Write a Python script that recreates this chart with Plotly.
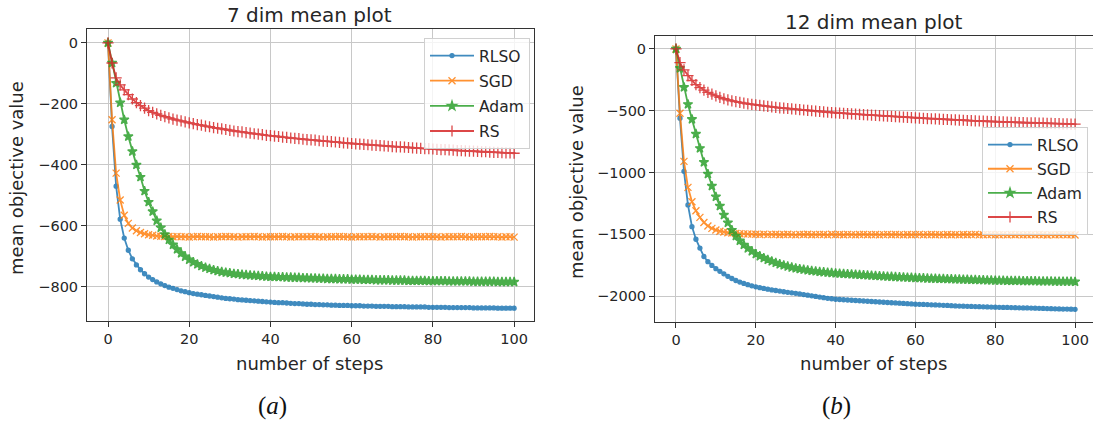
import plotly.graph_objects as go

# ---------------- data ----------------
series_names = ["RLSO", "SGD", "Adam", "RS"]
colors = ["#1f77b4", "#ff7f0e", "#2ca02c", "#d62728"]

L_RLSO = [0, -274, -470, -578, -640, -680, -708, -728, -744, -757,
          -768, -776, -784, -790, -796, -801, -805, -809, -813, -816,
          -819, -822, -824, -826, -828, -830, -832, -834, -836, -838,
          -839, -840, -842, -843, -844, -845, -846, -847, -848, -849,
          -850, -851, -852, -852, -853, -854, -855, -855, -856, -857,
          -857, -858, -858, -859, -859, -860, -860, -861, -861, -861,
          -862, -862, -862, -863, -863, -863, -864, -864, -864, -864,
          -865, -865, -865, -865, -866, -866, -866, -866, -866, -867,
          -867, -867, -867, -867, -868, -868, -868, -868, -868, -868,
          -869, -869, -869, -869, -869, -869, -870, -870, -870, -870,
          -870]
L_SGD = [0, -252, -427, -515, -565, -592, -607, -616, -622, -626,
         -629, -631, -633, -634, -635, -635, -636, -635, -636, -636,
         -637, -636, -635, -636, -636, -636, -637, -636, -636, -635,
         -636, -636, -637, -636, -636, -636, -635, -636, -637, -636,
         -636, -636, -636, -635, -636, -637, -636, -636, -636, -636,
         -635, -636, -636, -637, -636, -636, -636, -635, -636, -636,
         -637, -636, -636, -636, -636, -635, -636, -637, -636, -636,
         -636, -636, -635, -636, -636, -637, -636, -636, -636, -635,
         -636, -636, -637, -636, -636, -636, -636, -635, -636, -637,
         -636, -636, -636, -636, -635, -636, -636, -637, -636, -636,
         -637]
L_ADAM = [0, -66, -132, -196, -252, -307, -356, -400, -440, -486,
          -522, -553, -583, -606, -628, -646, -662, -677, -690, -701,
          -711, -719, -726, -732, -737, -741, -745, -748, -751, -753,
          -755, -757, -758, -760, -761, -762, -763, -764, -765, -766,
          -767, -767, -768, -768, -769, -769, -770, -770, -771, -771,
          -772, -772, -773, -773, -774, -774, -774, -775, -775, -775,
          -776, -776, -776, -777, -777, -777, -778, -778, -778, -778,
          -779, -779, -779, -779, -780, -780, -780, -780, -780, -781,
          -781, -781, -781, -781, -782, -782, -782, -782, -782, -782,
          -783, -783, -783, -783, -783, -783, -784, -784, -784, -784,
          -784]
L_RS = [0, -66, -115, -138, -154, -170, -184, -196, -206, -214,
        -222, -228, -233, -238, -242, -246, -250, -253, -256, -259,
        -262, -265, -268, -270, -273, -275, -278, -280, -282, -284,
        -287, -289, -291, -292, -294, -296, -298, -299, -301, -303,
        -304, -306, -307, -309, -310, -312, -313, -314, -316, -317,
        -318, -319, -321, -322, -323, -324, -325, -326, -328, -329,
        -330, -331, -332, -333, -334, -335, -336, -337, -338, -339,
        -340, -341, -341, -342, -343, -344, -345, -346, -347, -347,
        -348, -349, -350, -350, -351, -352, -353, -353, -354, -355,
        -355, -356, -357, -357, -358, -359, -359, -360, -361, -361,
        -362]

R_RLSO = [0, -560, -990, -1262, -1438, -1540, -1612, -1680, -1722, -1752,
          -1778, -1800, -1820, -1840, -1858, -1874, -1887, -1898, -1908, -1917,
          -1925, -1932, -1938, -1944, -1950, -1955, -1960, -1965, -1970, -1974,
          -1978, -1983, -1988, -1993, -1998, -2003, -2008, -2013, -2018, -2022,
          -2026, -2028, -2030, -2032, -2034, -2036, -2038, -2040, -2042, -2044,
          -2046, -2048, -2050, -2052, -2054, -2056, -2058, -2060, -2062, -2064,
          -2066, -2067, -2068, -2069, -2071, -2072, -2073, -2075, -2076, -2078,
          -2080, -2081, -2082, -2083, -2084, -2085, -2086, -2087, -2088, -2089,
          -2090, -2091, -2092, -2092, -2093, -2094, -2095, -2096, -2096, -2097,
          -2098, -2099, -2100, -2101, -2102, -2103, -2104, -2105, -2105, -2106,
          -2107]
R_SGD = [0, -520, -910, -1120, -1236, -1310, -1363, -1405, -1433, -1452,
         -1466, -1475, -1482, -1487, -1490, -1493, -1495, -1497, -1498, -1499,
         -1500, -1502, -1499, -1503, -1501, -1500, -1504, -1502, -1500, -1503,
         -1505, -1501, -1502, -1500, -1504, -1503, -1501, -1502, -1505, -1500,
         -1503, -1502, -1504, -1501, -1503, -1505, -1502, -1501, -1504, -1503,
         -1502, -1505, -1503, -1501, -1504, -1502, -1503, -1505, -1502, -1504,
         -1503, -1501, -1505, -1503, -1502, -1504, -1503, -1505, -1502, -1504,
         -1503, -1505, -1502, -1504, -1503, -1501, -1505, -1504, -1503, -1502,
         -1505, -1504, -1503, -1505, -1502, -1504, -1503, -1505, -1504, -1503,
         -1505, -1502, -1504, -1506, -1503, -1505, -1504, -1503, -1505, -1504,
         -1506]
R_ADAM = [0, -156, -310, -448, -569, -688, -804, -917, -1012, -1109,
          -1196, -1271, -1344, -1406, -1466, -1514, -1552, -1585, -1614, -1638,
          -1660, -1677, -1692, -1706, -1719, -1731, -1742, -1751, -1760, -1768,
          -1775, -1781, -1786, -1791, -1796, -1800, -1804, -1807, -1810, -1813,
          -1816, -1818, -1820, -1822, -1824, -1826, -1828, -1830, -1832, -1834,
          -1836, -1838, -1840, -1842, -1843, -1845, -1847, -1848, -1850, -1851,
          -1853, -1854, -1855, -1857, -1858, -1859, -1860, -1861, -1862, -1863,
          -1864, -1865, -1866, -1867, -1868, -1869, -1870, -1871, -1872, -1873,
          -1874, -1875, -1875, -1876, -1876, -1877, -1877, -1878, -1878, -1879,
          -1879, -1880, -1880, -1881, -1881, -1882, -1882, -1882, -1883, -1883,
          -1884]
R_RS = [0, -110, -170, -215, -255, -288, -313, -333, -351, -366,
        -380, -392, -403, -412, -420, -427, -433, -439, -444, -449,
        -453, -457, -461, -465, -469, -472, -476, -479, -482, -485,
        -488, -491, -494, -497, -500, -503, -506, -509, -512, -515,
        -518, -520, -522, -524, -526, -528, -530, -532, -534, -536,
        -538, -540, -542, -544, -546, -548, -550, -552, -554, -556,
        -558, -560, -561, -563, -565, -566, -568, -570, -571, -573,
        -574, -576, -577, -579, -580, -582, -583, -584, -586, -587,
        -588, -589, -590, -592, -593, -594, -595, -596, -597, -598,
        -599, -600, -601, -602, -603, -604, -605, -606, -607, -608,
        -609]

x_ticks = [0, 20, 40, 60, 80, 100]
x_ticktext = ["0", "20", "40", "60", "80", "100"]
yL_ticks = [0, -200, -400, -600, -800]
yL_ticktext = ["0", "\u2212200", "\u2212400", "\u2212600", "\u2212800"]
yR_ticks = [0, -500, -1000, -1500, -2000]
yR_ticktext = ["0", "\u2212500", "\u22121000", "\u22121500", "\u22122000"]

titles = ["7 dim mean plot", "12 dim mean plot"]
xlabel = "number of steps"
ylabel = "mean objective value"
captions = ["(<i>a</i>)", "(<i>b</i>)"]

# ---------------- figure ----------------
W, H = 1093, 423
markers = [
    dict(symbol="circle", size=4),
    dict(symbol="x-thin", size=7),
    dict(symbol="star", size=7),
    dict(symbol="cross-thin", size=8),
]

fig = go.Figure()
left = [L_RLSO, L_SGD, L_ADAM, L_RS]
right = [R_RLSO, R_SGD, R_ADAM, R_RS]

for panel, (data, xa, ya, leg) in enumerate([(left, "x", "y", "legend"), (right, "x2", "y2", "legend2")]):
    for i, vals in enumerate(data):
        m = markers[i]
        fig.add_trace(go.Scatter(
            x=list(range(len(vals))), y=vals, mode="lines+markers",
            name=series_names[i], xaxis=xa, yaxis=ya, legend=leg,
            legendgroup=f"{panel}{i}",
            line=dict(color=colors[i], width=1.8),
            marker=dict(symbol=m["symbol"], size=m["size"], color=colors[i],
                        line=dict(color=colors[i], width=1.3)),
            opacity=0.85,
        ))

axis_common = dict(
    showgrid=True, gridcolor="#c8c8c8", gridwidth=1,
    showline=True, linecolor="#333333", linewidth=1, mirror=True,
    ticks="outside", ticklen=5, tickcolor="#333333",
    tickfont=dict(family="DejaVu Sans", size=14.5, color="#262626"),
    zeroline=False, tickmode="array",
)

fig.update_layout(
    width=W, height=H, margin=dict(l=0, r=0, t=0, b=0),
    paper_bgcolor="white", plot_bgcolor="white",
    xaxis=dict(axis_common, domain=[87 / W, 534 / W], range=[-5.17, 104.9],
               tickvals=x_ticks, ticktext=x_ticktext, anchor="y"),
    yaxis=dict(axis_common, domain=[1 - 321 / H, 1 - 29 / H], range=[-912, 45.5],
               tickvals=yL_ticks, ticktext=yL_ticktext, anchor="x"),
    xaxis2=dict(axis_common, domain=[655 / W, 1.0], range=[-5.26, 104.5],
                tickvals=x_ticks, ticktext=x_ticktext, anchor="y2"),
    yaxis2=dict(axis_common, domain=[1 - 322 / H, 1 - 36 / H], range=[-2210, 105],
                tickvals=yR_ticks, ticktext=yR_ticktext, anchor="x2"),
    legend=dict(x=530 / W, y=1 - 38 / H, xanchor="right", yanchor="top",
                bgcolor="rgba(255,255,255,0.8)", bordercolor="#d0d0d0", borderwidth=1,
                font=dict(family="DejaVu Sans", size=15.5, color="#262626"),
                tracegroupgap=2, itemwidth=44),
    legend2=dict(x=1088 / W, y=1 - 127 / H, xanchor="right", yanchor="top",
                 bgcolor="rgba(255,255,255,0.8)", bordercolor="#d0d0d0", borderwidth=1,
                 font=dict(family="DejaVu Sans", size=15.5, color="#262626"),
                 tracegroupgap=1, itemwidth=44),
    showlegend=True,
)

ann = []
font_lbl = dict(family="DejaVu Sans", size=18, color="#262626")
font_title = dict(family="DejaVu Sans", size=20, color="#262626")


def add_text(text, px, py, font, angle=0):
    ann.append(dict(text=text, x=px / W, y=1 - py / H, xref="paper", yref="paper",
                    xanchor="center", yanchor="middle", showarrow=False,
                    textangle=angle, font=font))


add_text(titles[0], 309, 15, font_title)
add_text(titles[1], 873, 22, font_title)
add_text(xlabel, 309, 363, font_lbl)
add_text(xlabel, 873, 363, font_lbl)
add_text(ylabel, 17, 178, font_lbl, -90)
add_text(ylabel, 577, 182, font_lbl, -90)
cap_font = dict(family="Liberation Serif", size=25, color="#111111")
add_text(captions[0], 272, 406, cap_font)
add_text(captions[1], 836, 406, cap_font)
fig.update_layout(annotations=ann)

fig.write_html("out.html")
